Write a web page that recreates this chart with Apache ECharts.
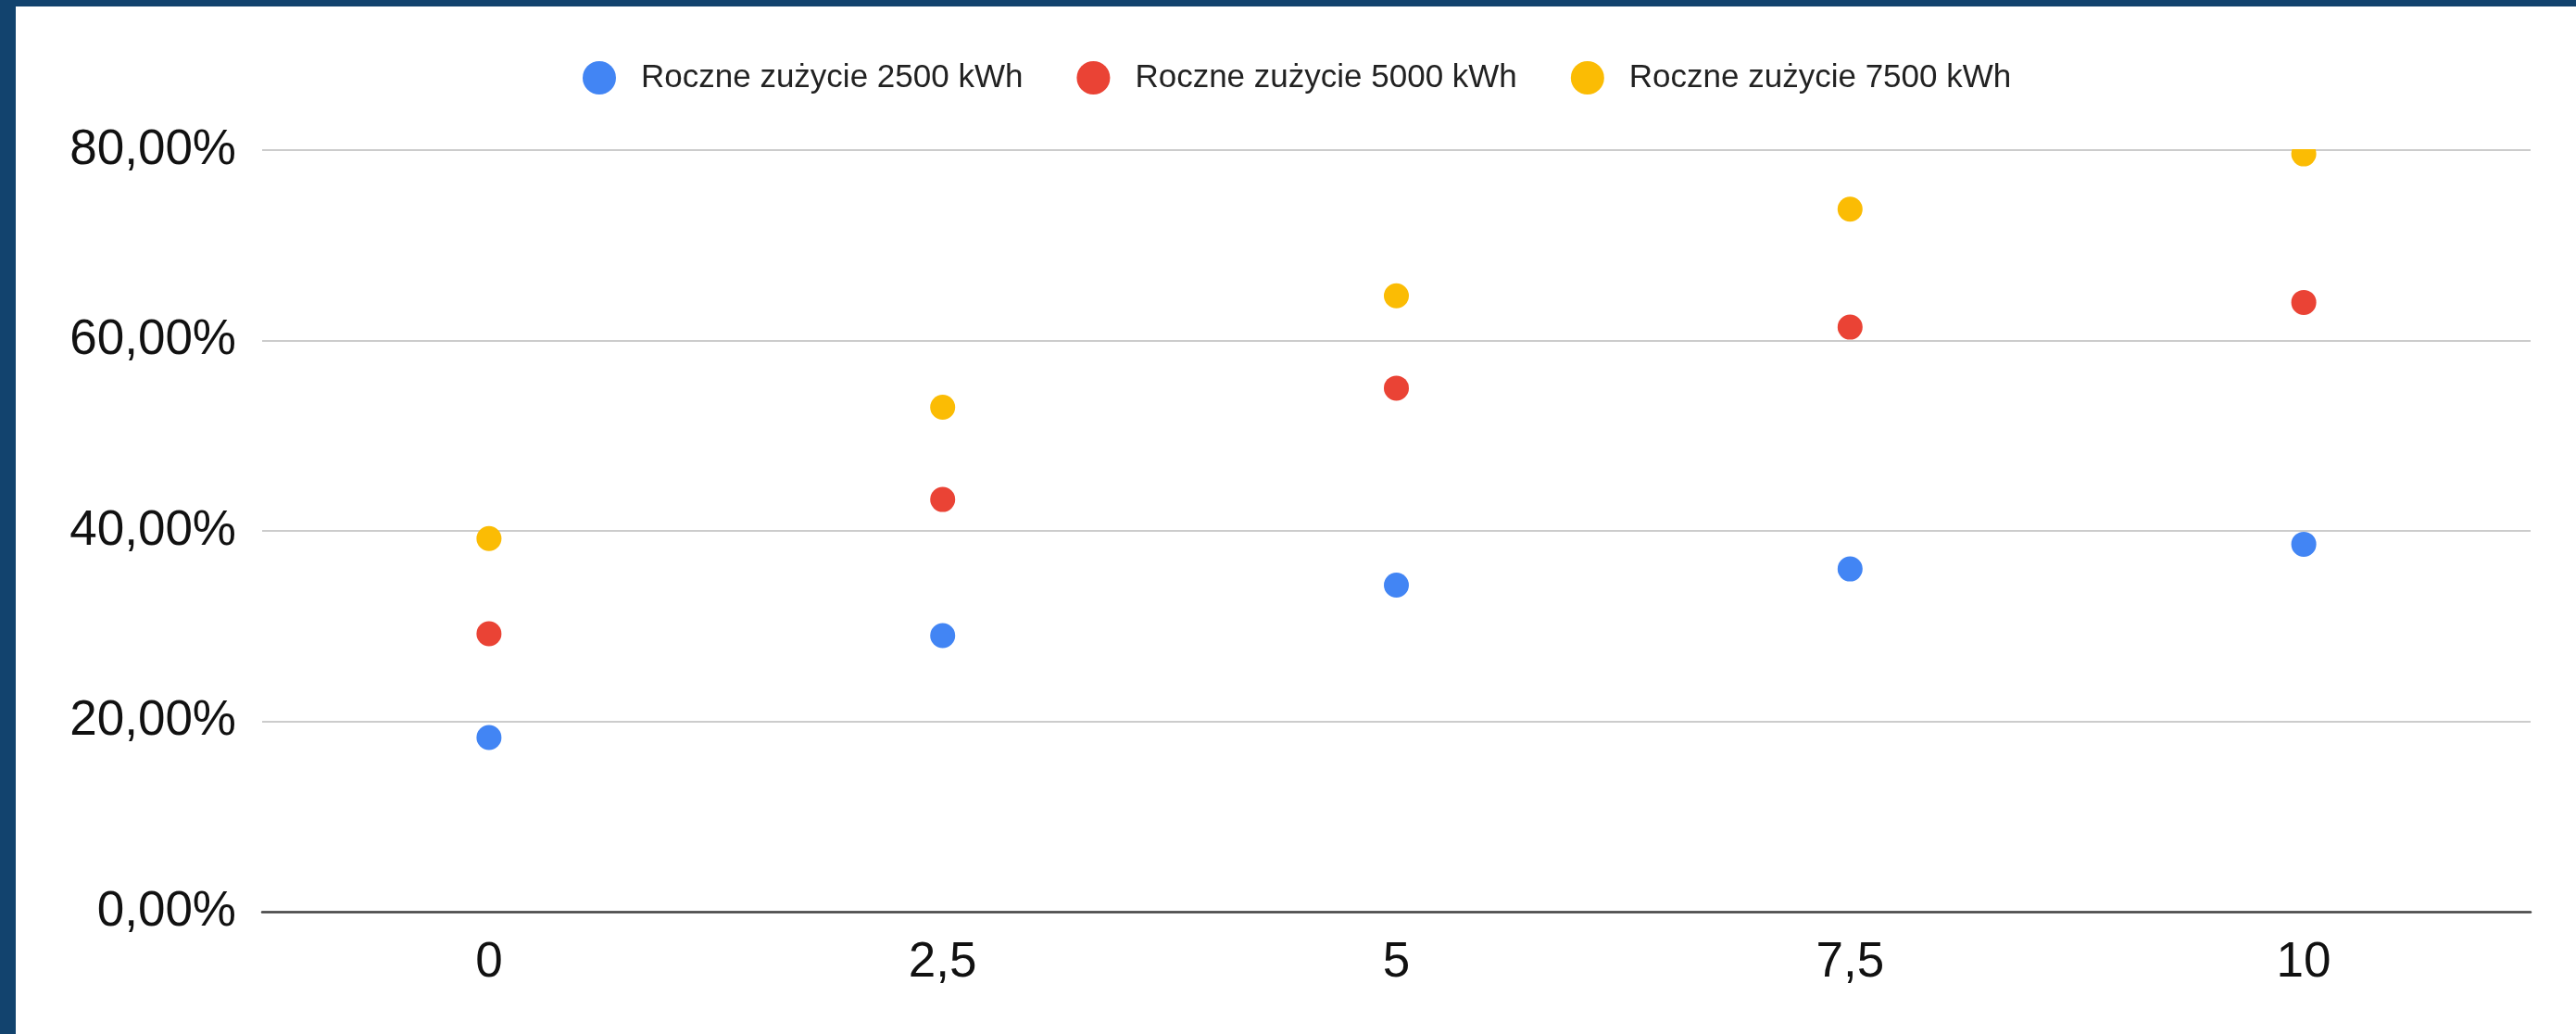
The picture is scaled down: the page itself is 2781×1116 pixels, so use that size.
<!DOCTYPE html>
<html>
<head>
<meta charset="utf-8">
<title>Roczne zużycie</title>
<script src="https://cdn.jsdelivr.net/npm/echarts@6/dist/echarts.min.js"></script>
<style>
  html, body { margin: 0; padding: 0; background: #ffffff; }
  #wrap { position: relative; width: 2781px; height: 1116px; overflow: hidden; background: #ffffff; }
  #chart { position: absolute; left: 0; top: 0; width: 2781px; height: 1116px; }
  .frame { position: absolute; background: #12436e; z-index: 5; }
</style>
</head>
<body>
<div id="wrap">
  <div id="chart"></div>
  <div class="frame" style="left:0;top:0;width:2781px;height:7px;"></div>
  <div class="frame" style="left:0;top:0;width:17px;height:1116px;"></div>
</div>
<script>
// Installed PV power (kW) on the x axis
const xValues = [0, 2.5, 5, 7.5, 10];
// Share of self-consumption (%) for each annual consumption level
const usage2500 = [18.3, 29.0, 34.3, 36.0, 38.6];
const usage5000 = [29.2, 43.3, 55.0, 61.4, 64.0];
const usage7500 = [39.2, 53.0, 64.7, 73.8, 79.6];

const seriesNames = ['Roczne zużycie 2500 kWh', 'Roczne zużycie 5000 kWh', 'Roczne zużycie 7500 kWh'];
const seriesColors = ['#4285f4', '#ea4335', '#fbbc04'];
const xTicks = [0, 2.5, 5, 7.5, 10];
const yTicks = [0, 20, 40, 60, 80];

const FONT = '"Liberation Sans", Arial, sans-serif';
const fmtComma = v => String(v).replace('.', ',');
const fmtPct = v => v.toFixed(2).replace('.', ',') + '%';

const pairs = vals => xValues.map((x, i) => [x, vals[i]]);
const allSeries = [usage2500, usage5000, usage7500].map((vals, i) => ({
  name: seriesNames[i],
  type: 'scatter',
  data: pairs(vals),
  symbol: 'circle',
  symbolSize: 27,
  itemStyle: { color: seriesColors[i], opacity: 1 },
  emphasis: { disabled: true },
  z: 3
}));

const chart = echarts.init(document.getElementById('chart'), null, { renderer: 'canvas' });
chart.setOption({
  animation: false,
  backgroundColor: '#ffffff',
  color: seriesColors,
  legend: {
    left: 624,
    top: 61,
    icon: 'circle',
    itemWidth: 80,
    itemHeight: 36,
    itemGap: 58,
    textStyle: { fontFamily: FONT, fontSize: 35, color: '#222222' },
    data: seriesNames
  },
  grid: { left: 283, right: 49, top: 162, bottom: 132, containLabel: false },
  xAxis: {
    type: 'value',
    min: -1.25,
    max: 11.25,
    axisLine: { show: true, onZero: false, lineStyle: { color: '#444444', width: 2.5 } },
    axisTick: { show: false },
    splitLine: { show: false },
    axisLabel: {
      customValues: xTicks,
      formatter: v => fmtComma(v),
      margin: 29,
      fontFamily: FONT,
      fontSize: 53,
      color: '#111111'
    }
  },
  yAxis: {
    type: 'value',
    min: yTicks[0],
    max: yTicks[yTicks.length - 1],
    interval: 20,
    axisLine: { show: false },
    axisTick: { show: false },
    splitLine: { show: true, lineStyle: { color: '#cccccc', width: 2 } },
    axisLabel: {
      formatter: v => fmtPct(v),
      margin: 28,
      padding: [10, 0, 0, 0],
      fontFamily: FONT,
      fontSize: 53,
      color: '#111111'
    }
  },
  // plot-area clipping strip above the top gridline
  graphic: [{
    type: 'rect',
    left: 283,
    top: 130,
    shape: { width: 2449, height: 31 },
    style: { fill: '#ffffff' },
    z: 100,
    silent: true
  }],
  series: allSeries
});
</script>
</body>
</html>
